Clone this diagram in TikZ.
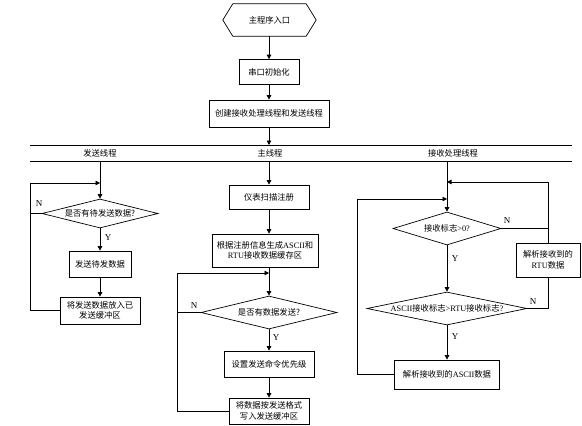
\documentclass[tikz,border=0pt]{standalone}
\usepackage{fontspec}
\setmainfont{Liberation Serif}
\newfontfamily\cjk{Noto Sans CJK SC}
\usetikzlibrary{arrows.meta,shapes.geometric}
\newcommand\lat[1]{{\rmfamily #1}}
\begin{document}
\begin{tikzpicture}[x=1pt,y=-1pt,
  every node/.style={font=\cjk\fontsize{8.3}{10.5}\selectfont, inner sep=0pt, align=center},
  ln/.style={line width=0.7pt},
  arr/.style={ln, -{Triangle[length=4.5pt,width=4.5pt]}},
  box/.style={draw, ln},
  dia/.style={draw, ln, diamond},
  yn/.style={font=\rmfamily\fontsize{9}{10}\selectfont}]
\useasboundingbox (0,0) rectangle (582,426);

% entry hexagon
\node (entry) at (269.5,20) [minimum width=93pt, minimum height=32pt] {主程序入口};
\draw[ln] (entry.west) -- ([xshift=10pt]entry.north west) -- ([xshift=-10pt]entry.north east)
  -- (entry.east) -- ([xshift=-10pt]entry.south east) -- ([xshift=10pt]entry.south west) -- cycle;

\node[box, minimum width=60pt, minimum height=25pt] (init) at (269,72) {串口初始化};
\node[box, minimum width=120pt, minimum height=27pt] (create) at (269,113.5) {创建接收处理线程和发送线程};

% lane header
\coordinate (h1l) at (30,145);
\coordinate (h1r) at (572,145);
\coordinate (h2l) at (30,161);
\coordinate (h2r) at (572,161);
\draw[ln] (h1l) -- (h1r);
\draw[ln] (h2l) -- (h2r);
\coordinate (htop) at (269,145);
\node (lane1) at (100,153) {发送线程};
\node (lane2) at (270,153) {主线程};
\node (lane3) at (453,153) {接收处理线程};

\draw[arr] (entry.south -| init.north) -- (init.north);
\draw[arr] (init) -- (create);
\draw[arr] (create) -- (htop);

% ---------- left lane ----------
\coordinate (L0) at (100,161);
\node[dia, minimum width=116pt, minimum height=29pt, label={center:是否有待发送数据?}] (d1) at (100,213.5) {};
\node[box, minimum width=62pt, minimum height=26pt] (send1) at (100,264) {发送待发数据};
\node[box, minimum width=80pt, minimum height=27pt] (buf1) at (100,310.5) {将发送数据放入已\\发送缓冲区};
\coordinate (Lx) at (30,183);
\coordinate (Lj) at (100,183);
\draw[arr] (L0) -- (d1.north);
\draw[arr] (buf1.west) -| (Lx) -- (Lj);
\draw[ln] (d1.west) -- (d1.west -| Lx);
\draw[arr] (d1.south) -- (send1.north);
\draw[arr] (send1) -- (buf1);
\node[yn] (n1) at (39,204) {N};
\node[yn] (y1) at (108,238) {Y};

% ---------- middle lane ----------
\coordinate (M0) at (269,161);
\node[box, minimum width=80pt, minimum height=24pt] (scan) at (269,197) {仪表扫描注册};
\node[box, minimum width=106pt, minimum height=33pt] (gen) at (265,250.5) {根据注册信息生成\lat{ASCII}和\\\lat{RTU}接收数据缓存区};
\node[dia, minimum width=136pt, minimum height=33pt, label={center:是否有数据发送?}] (d2) at (269,312.5) {};
\node[box, minimum width=90pt, minimum height=26pt] (prio) at (269,364) {设置发送命令优先级};
\node[box, minimum width=80pt, minimum height=26pt] (wbuf) at (269,411) {将数据按发送格式\\写入发送缓冲区};
\coordinate (Mx) at (177,273);
\coordinate (Mj) at (269,273);
\draw[arr] (M0) -- (scan.north);
\draw[arr] (scan) -- (scan.south |- gen.north);
\draw[arr] (scan.south |- gen.south) -- (d2.north);
\draw[arr] (wbuf.west) -| (Mx) -- (Mj);
\draw[ln] (d2.west) -- (d2.west -| Mx);
\draw[arr] (d2.south) -- (prio.north);
\draw[arr] (prio) -- (wbuf);
\node[yn] (n2) at (194,306) {N};
\node[yn] (y2) at (276,338) {Y};

% ---------- right lane ----------
\coordinate (R0) at (447,161);
\node[dia, minimum width=108pt, minimum height=33pt, label={center:接收标志\lat{>0?}}] (d3) at (447,228.5) {};
\node[box, minimum width=64pt, minimum height=34pt] (rtu) at (548,260) {解析接收到的\\\lat{RTU}数据};
\node[dia, minimum width=160pt, minimum height=33pt, label={center:\lat{ASCII}接收标志\lat{>RTU}接收标志\lat{?}}] (d4) at (447,308.5) {};
\node[box, minimum width=105pt, minimum height=29pt] (ascii) at (447,374.5) {解析接收到的\lat{ASCII}数据};
\coordinate (Rj1) at (447,182);
\coordinate (Rx) at (357,199);
\coordinate (Rj2) at (447,199);
\draw[arr] (R0) -- (d3.north);
\draw[ln] (d3.east) -- (d3.east -| rtu.north);
\draw[ln] (d4.east) -| (rtu.south);
\draw[arr] (rtu.north) |- (Rj1);
\draw[arr] (d3.south) -- (d4.north);
\draw[arr] (d4.south) -- (ascii.north);
\draw[arr] (ascii.west) -| (Rx) -- (Rj2);
\node[yn] (n3) at (507,221) {N};
\node[yn] (y3) at (455,259) {Y};
\node[yn] (n4) at (533,302) {N};
\node[yn] (y4) at (455,337) {Y};
\end{tikzpicture}
\end{document}
